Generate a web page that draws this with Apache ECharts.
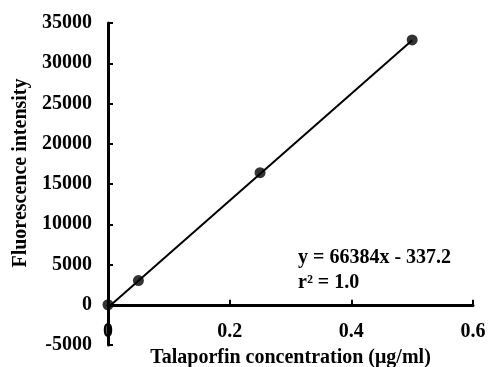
<!DOCTYPE html>
<html>
<head>
<meta charset="utf-8">
<script src="https://cdn.jsdelivr.net/npm/echarts@6/dist/echarts.min.js"></script>
<style>
  html, body { margin: 0; padding: 0; background: #fff; }
  #chart { width: 488px; height: 367px; }
</style>
</head>
<body>
<div id="chart"></div>
<script>
// concentration (ug/ml) and measured intensity
var conc = [0, 0.05, 0.25, 0.5];
var intensity = [0, 3000, 16400, 32900];
// fitted line: y = 66384x - 337.2
var fitX = [0, 0.5];
var fitY = [-337.2, 32854.8];
var eqText = ['y = 66384x - 337.2', 'r\u00b2 = 1.0'];

var font = '"Liberation Serif", "Times New Roman", serif';

var chart = echarts.init(document.getElementById('chart'));

var points = conc.map(function (x, i) { return [x, intensity[i]]; });
var fit = fitX.map(function (x, i) { return [x, fitY[i]]; });

var option = {
    animation: false,
    grid: { left: 108, right: 15, top: 23, bottom: 22, outerBoundsMode: 'none' },
    xAxis: {
        type: 'value',
        min: 0, max: 0.6, interval: 0.2,
        name: 'Talaporfin concentration (\u03bcg/ml)',
        nameLocation: 'middle',
        nameGap: 3,
        nameTextStyle: { fontFamily: font, fontWeight: 'bold', fontSize: 20, color: '#000' },
        axisLine: { onZero: true, lineStyle: { color: '#000', width: 3 } },
        axisTick: { inside: true, length: 5, lineStyle: { color: '#000', width: 2 } },
        axisLabel: { fontFamily: font, fontWeight: 'bold', fontSize: 20, color: '#000', margin: -23 },
        splitLine: { show: false }
    },
    yAxis: {
        type: 'value',
        min: -5000, max: 35000, interval: 5000,
        name: 'Fluorescence intensity',
        nameLocation: 'middle',
        nameGap: 76,
        nameTextStyle: { fontFamily: font, fontWeight: 'bold', fontSize: 20, color: '#000', padding: [0, 0, 0, 22] },
        axisLine: { onZero: false, lineStyle: { color: '#000', width: 3 } },
        axisTick: { inside: true, length: 5, lineStyle: { color: '#000', width: 2 } },
        axisLabel: {
            fontFamily: font, fontWeight: 'bold', fontSize: 20, color: '#000', margin: 16,
            formatter: function (v) { return String(v); }
        },
        splitLine: { show: false }
    },
    series: [
        {
            type: 'line',
            data: fit,
            symbol: 'none',
            lineStyle: { color: '#000', width: 2 },
            z: 2
        },
        {
            type: 'scatter',
            data: points,
            symbolSize: 11,
            itemStyle: { color: '#000' },
            z: 3
        }
    ],
    graphic: [
        {
            type: 'text', left: 298, top: 248,
            style: { text: eqText[0], fontFamily: font, fontWeight: 'bold', fontSize: 20, fill: '#000' }
        },
        {
            type: 'text', left: 298, top: 273,
            style: { text: eqText[1], fontFamily: font, fontWeight: 'bold', fontSize: 20, fill: '#000' }
        }
    ]
};

chart.setOption(option);
</script>
</body>
</html>
